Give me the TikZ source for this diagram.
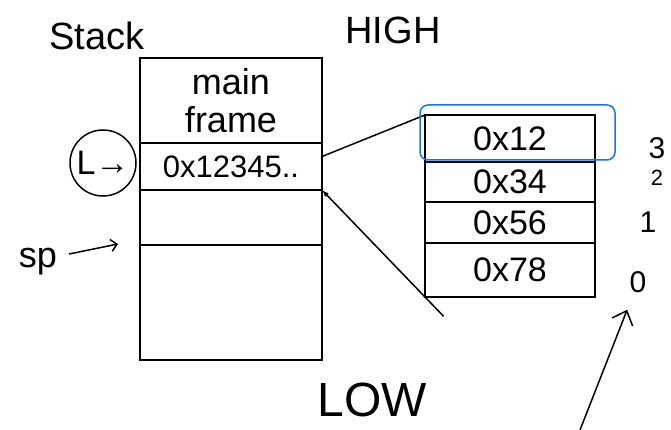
\documentclass[tikz,border=0pt]{standalone}
\usepackage{fontspec}
\setmainfont{Liberation Sans}
\usepackage{xcolor}
\usepackage{tikz}
\usetikzlibrary{
  arrows.meta,
  positioning,
  calc
}
\definecolor{pen}{RGB}{26,115,232}
\newcommand{\fs}[1]{\fontsize{#1}{#1}\selectfont}

\begin{document}
\begin{tikzpicture}[x=1pt,y=-1pt,>=Latex,line width=1.5pt,
  cell/.style={draw,minimum width=182pt,minimum height=#1,inner sep=0pt,outer sep=0pt},
  slot/.style={draw,minimum width=170pt,minimum height=#1,inner sep=0pt,outer sep=0pt,font=\fs{34}},
  idx/.style={font=\fs{30}}]
  \useasboundingbox (0,0) rectangle (671,430);

  % stack frames
  \node[cell=85pt, align=center, font=\fontsize{36}{38}\selectfont] (mainf) at (231,100.5) {main\\frame};
  \node[cell=47pt, below=0pt of mainf, font=\fs{31}] (addr) {0x12345..};
  \node[cell=55pt, below=0pt of addr] (free1) {};
  \node[cell=115pt, below=0pt of free1] (free2) {};

  % bytes of the address
  \node[slot=47pt] (b3) at (510,138.5) {0x12};
  \node[slot=40pt, below=0pt of b3] (b2) {0x34};
  \node[slot=41pt, below=0pt of b2] (b1) {0x56};
  \node[slot=54pt, below=0pt of b1] (b0) {0x78};
  \node[idx] (i3) at (657,148) {3};
  \node[idx, font=\fs{22}] (i2) at (657,178) {2};
  \node[idx] (i1) at (648,222) {1};
  \node[idx] (i0) at (638,282) {0};

  % labels
  \node[font=\fs{38}] (stk) at (97,36) {Stack};
  \node[font=\fs{38}] (high) at (393,30) {HIGH};
  \node[font=\fs{48}] (low) at (372,400) {LOW};
  \node[draw, circle, minimum size=66pt, inner sep=0pt, font=\fs{34}] (ret) at (103,163) {L→};
  \node[font=\fs{36}] (sp) at (38,262) {sp};

  % wires
  \coordinate (sptip) at (118,244);
  \coordinate (tail) at ($(addr.south east)!1.18!(b0.south west)$);
  \coordinate (foot) at (580,430);
  \draw[-{Straight Barb[length=6pt]}] ([xshift=8pt,yshift=8pt]sp.east) -- (sptip);
  \draw ([yshift=10pt]addr.east) -- (b3.north west);
  \draw[-{Latex[length=7pt]}] (tail) -- (addr.south east);
  \draw[-{Straight Barb[length=12pt,width=22pt]}, shorten >=14pt] (foot) -- (i0);

  % highlight
  \draw[pen, rounded corners=8pt] ($(b3.north west)+(-5,-10)$) rectangle ($(b3.south east)+(20,-2)$);
\end{tikzpicture}
\end{document}
